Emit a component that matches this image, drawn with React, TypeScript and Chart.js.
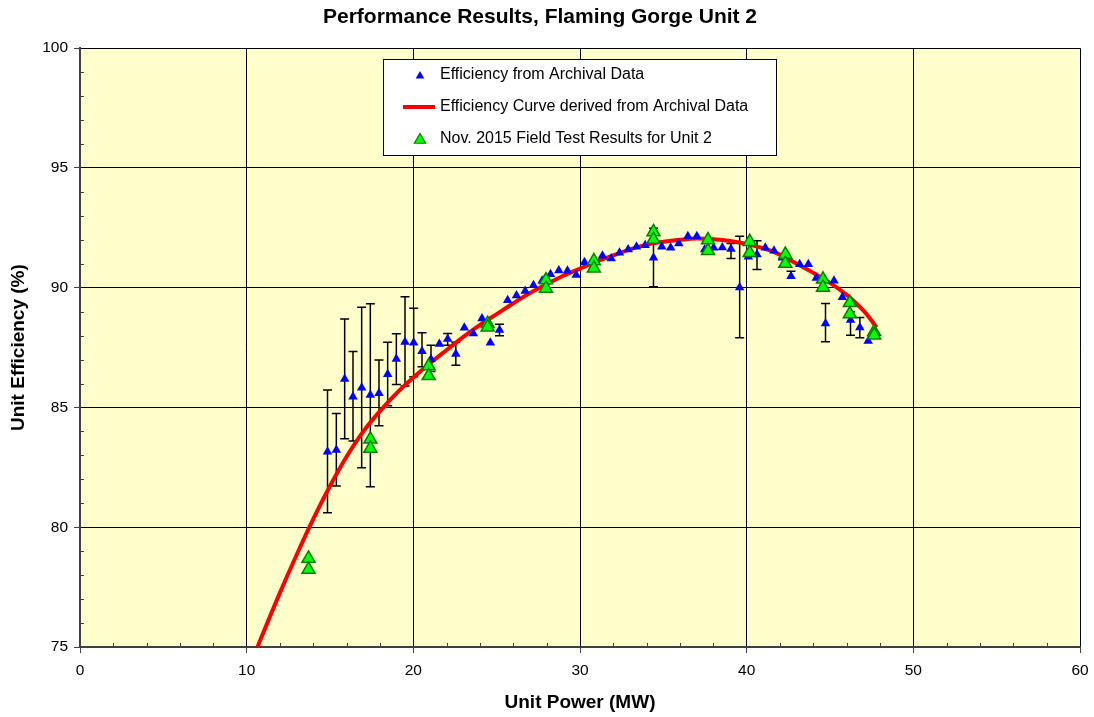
import React, { useEffect, useRef } from 'react';
import { Chart, registerables } from 'chart.js';

Chart.register(...registerables);

// Archival data (blue triangles)
const archX = [14.85, 15.38, 15.88, 16.38, 16.9, 17.42, 17.94, 18.46, 18.98, 19.5, 20.02, 20.52, 21.06, 21.56, 22.06, 22.55, 23.06, 23.6, 24.12, 24.62, 25.17, 25.66, 26.19, 26.71, 27.21, 27.73, 28.23, 28.73, 29.25, 29.77, 30.27, 31.35, 31.87, 32.37, 32.89, 33.39, 33.91, 34.41, 34.91, 35.44, 35.93, 36.47, 37.01, 37.48, 38.02, 38.54, 39.06, 39.58, 40.1, 40.62, 41.12, 41.64, 42.14, 42.66, 43.18, 43.7, 44.18, 44.73, 45.24, 45.74, 46.23, 46.79, 47.29];
const archY = [83.15, 83.22, 86.19, 85.45, 85.82, 85.52, 85.59, 86.39, 87.02, 87.73, 87.7, 87.35, 87.01, 87.65, 87.86, 87.23, 88.33, 88.09, 88.72, 87.7, 88.23, 89.48, 89.68, 89.86, 90.1, 90.29, 90.56, 90.72, 90.71, 90.53, 91.06, 91.33, 91.22, 91.46, 91.6, 91.71, 91.77, 91.25, 91.71, 91.67, 91.85, 92.15, 92.15, 91.6, 91.67, 91.68, 91.62, 90.01, 91.29, 91.39, 91.67, 91.54, 91.25, 90.48, 90.98, 90.98, 90.41, 88.51, 90.29, 89.6, 88.65, 88.34, 87.78];
const errLow: (number | null)[] = [80.6, 81.72, 83.69, 83.6, 82.48, 81.69, 84.24, 85.07, 85.96, 85.9, 86.28, 86.7, 86.5, null, 87.6, 86.76, null, null, null, null, 87.99, null, null, null, null, null, null, null, null, null, null, null, null, null, null, null, null, 90.04, null, null, null, null, null, null, null, null, 91.22, 87.91, null, 90.76, null, null, null, null, null, null, null, 87.74, null, null, 88.02, 87.91, null];
const errHigh: (number | null)[] = [85.73, 84.75, 88.69, 87.34, 89.18, 89.33, 86.98, 87.72, 88.08, 89.62, 89.14, 88.12, 87.6, null, 88.09, 87.72, null, null, null, null, 88.47, null, null, null, null, null, null, null, null, null, null, null, null, null, null, null, null, 92.48, null, null, null, null, null, null, null, null, 91.85, 92.15, null, 91.96, null, null, null, 90.69, null, null, null, 89.34, null, null, 89.0, 88.76, null];

// Efficiency curve derived from archival data (red line)
const curveX = [10.65, 11, 12, 13, 14, 15, 16, 17, 18, 19, 20, 21, 22, 23, 24, 25, 26, 27, 28, 29, 30, 31, 32, 33, 34, 35, 36, 37, 38, 39, 40, 41, 42, 43, 44, 45, 46, 47, 47.8];
const curveY = [75.0, 75.6, 77.27, 78.85, 80.35, 81.72, 82.95, 84.0, 84.85, 85.6, 86.25, 86.85, 87.4, 87.95, 88.45, 88.9, 89.35, 89.78, 90.15, 90.5, 90.8, 91.1, 91.35, 91.6, 91.8, 91.92, 92.0, 92.05, 92.02, 91.95, 91.82, 91.65, 91.38, 91.0, 90.62, 90.2, 89.7, 89.05, 88.35];

// Nov. 2015 field test results (green triangles)
const testX = [13.71, 13.71, 17.42, 17.42, 20.92, 20.92, 24.46, 24.46, 27.96, 27.96, 30.83, 30.83, 34.41, 34.41, 37.68, 37.68, 40.18, 40.18, 42.32, 42.32, 44.58, 44.58, 46.19, 46.19, 47.65, 47.65];
const testY = [78.7, 78.24, 83.67, 83.29, 86.73, 86.32, 88.5, 88.35, 90.32, 89.97, 91.12, 90.81, 92.33, 92.01, 91.99, 91.54, 91.92, 91.46, 91.39, 91.01, 90.35, 90.01, 89.37, 88.9, 88.16, 88.02];

const legendLabels = [
  'Efficiency from Archival Data',
  'Efficiency Curve derived from Archival Data',
  'Nov. 2015 Field Test Results for Unit 2',
];

const FONT = 'Arial, "Liberation Sans", sans-serif';

const bgPlugin = {
  id: 'plotBg',
  beforeDraw(chart: any) {
    const { ctx, chartArea } = chart;
    ctx.save();
    ctx.fillStyle = '#FFFFCC';
    ctx.fillRect(chartArea.left, chartArea.top, chartArea.right - chartArea.left, chartArea.bottom - chartArea.top);
    ctx.restore();
  },
};

const minorTicksPlugin = {
  id: 'minorTicks',
  beforeDatasetsDraw(chart: any) {
    const { ctx, chartArea, scales } = chart;
    const x = scales.x;
    const y = scales.y;
    ctx.save();
    ctx.strokeStyle = '#404040';
    ctx.lineWidth = 1;
    for (let v = 2; v < 60; v += 2) {
      if (v % 10 === 0) continue;
      const px = Math.round(x.getPixelForValue(v)) + 0.5;
      ctx.beginPath();
      ctx.moveTo(px, chartArea.bottom);
      ctx.lineTo(px, chartArea.bottom - 4);
      ctx.stroke();
    }
    for (let v = 76; v < 100; v += 1) {
      if (v % 5 === 0) continue;
      const py = Math.round(y.getPixelForValue(v)) + 0.5;
      ctx.beginPath();
      ctx.moveTo(chartArea.left, py);
      ctx.lineTo(chartArea.left + 4, py);
      ctx.stroke();
    }
    ctx.restore();
  },
};

const errorBarPlugin = {
  id: 'errorBars',
  beforeDatasetsDraw(chart: any) {
    const { ctx, chartArea, scales } = chart;
    const x = scales.x;
    const y = scales.y;
    ctx.save();
    ctx.beginPath();
    ctx.rect(chartArea.left, chartArea.top, chartArea.right - chartArea.left, chartArea.bottom - chartArea.top);
    ctx.clip();
    ctx.strokeStyle = '#000000';
    ctx.lineWidth = 1.5;
    const cap = 4.5;
    archX.forEach((vx, i) => {
      const lo = errLow[i];
      const hi = errHigh[i];
      if (lo == null && hi == null) return;
      const px = x.getPixelForValue(vx);
      const pLo = y.getPixelForValue(lo == null ? archY[i] : lo);
      const pHi = y.getPixelForValue(hi == null ? archY[i] : hi);
      ctx.beginPath();
      ctx.moveTo(px, pLo);
      ctx.lineTo(px, pHi);
      if (hi != null) {
        ctx.moveTo(px - cap, pHi);
        ctx.lineTo(px + cap, pHi);
      }
      if (lo != null) {
        ctx.moveTo(px - cap, pLo);
        ctx.lineTo(px + cap, pLo);
      }
      ctx.stroke();
    });
    ctx.restore();
  },
};

function triangle(ctx: CanvasRenderingContext2D, cx: number, cy: number, r: number) {
  ctx.beginPath();
  ctx.moveTo(cx, cy - r);
  ctx.lineTo(cx + r * 0.866, cy + r * 0.5);
  ctx.lineTo(cx - r * 0.866, cy + r * 0.5);
  ctx.closePath();
}

const legendPlugin = {
  id: 'boxLegend',
  afterDraw(chart: any) {
    const { ctx } = chart;
    const left = 383.5, top = 59.5, w = 393, h = 96;
    ctx.save();
    ctx.fillStyle = '#FFFFFF';
    ctx.fillRect(left, top, w, h);
    ctx.strokeStyle = '#000000';
    ctx.lineWidth = 1;
    ctx.strokeRect(left, top, w, h);
    const rows = [75, 107, 139];
    const mx = 420;
    ctx.fillStyle = '#0000FF';
    triangle(ctx, mx, rows[0] + 1, 5);
    ctx.fill();
    ctx.strokeStyle = '#FF0000';
    ctx.lineWidth = 4;
    ctx.beginPath();
    ctx.moveTo(403, rows[1]);
    ctx.lineTo(435, rows[1]);
    ctx.stroke();
    ctx.fillStyle = '#00FF00';
    ctx.strokeStyle = '#008000';
    ctx.lineWidth = 1.2;
    triangle(ctx, mx, rows[2] + 1, 6.5);
    ctx.fill();
    ctx.stroke();
    ctx.fillStyle = '#000000';
    ctx.font = `16px ${FONT}`;
    ctx.textBaseline = 'middle';
    ctx.textAlign = 'left';
    legendLabels.forEach((t, i) => ctx.fillText(t, 440, rows[i]));
    ctx.restore();
  },
};

export default function App() {
  const ref = useRef<HTMLCanvasElement | null>(null);

  useEffect(() => {
    if (!ref.current) return;
    const chart = new Chart(ref.current, {
      type: 'scatter',
      data: {
        datasets: [
          {
            label: legendLabels[1],
            data: curveX.map((x, i) => ({ x, y: curveY[i] })),
            showLine: true,
            borderColor: '#FF0000',
            backgroundColor: '#FF0000',
            borderWidth: 4,
            pointRadius: 0,
            tension: 0.4,
            order: 2,
          } as any,
          {
            label: legendLabels[0],
            data: archX.map((x, i) => ({ x, y: archY[i] })),
            pointStyle: 'triangle',
            pointRadius: 5.5,
            backgroundColor: '#0000FF',
            borderColor: '#0000FF',
            borderWidth: 0,
            order: 1,
          },
          {
            label: legendLabels[2],
            data: testX.map((x, i) => ({ x, y: testY[i] })),
            pointStyle: 'triangle',
            pointRadius: 7.5,
            backgroundColor: '#00FF00',
            borderColor: '#008000',
            borderWidth: 1.5,
            order: 0,
          },
        ],
      },
      options: {
        responsive: false,
        animation: false,
        events: [],
        layout: { padding: { top: 0, right: 14, bottom: 0, left: 0 } },
        plugins: {
          legend: { display: false },
          tooltip: { enabled: false },
          title: {
            display: true,
            text: 'Performance Results, Flaming Gorge Unit 2',
            color: '#000000',
            font: { family: FONT, size: 21, weight: 'bold', lineHeight: 1.2 },
            padding: { top: 5, bottom: 18 },
          },
        },
        scales: {
          x: {
            type: 'linear',
            min: 0,
            max: 60,
            ticks: { stepSize: 10, color: '#000000', font: { family: FONT, size: 15.5 }, padding: 8, maxRotation: 0 },
            grid: { color: '#000000', lineWidth: 1, tickLength: 6, tickColor: '#404040' },
            border: { display: true, color: '#404040', width: 2 },
            title: {
              display: true,
              text: 'Unit Power (MW)',
              color: '#000000',
              font: { family: FONT, size: 19, weight: 'bold' },
              padding: { top: 4, bottom: 3 },
            },
            afterFit(scale: any) {
              scale.height = 70;
              scale.paddingRight = 0;
              scale.paddingLeft = 0;
            },
          },
          y: {
            type: 'linear',
            min: 75,
            max: 100,
            ticks: { stepSize: 5, color: '#000000', font: { family: FONT, size: 15.5 }, padding: 6 },
            grid: { color: '#000000', lineWidth: 1, tickLength: 6, tickColor: '#404040' },
            border: { display: true, color: '#404040', width: 2 },
            title: {
              display: true,
              text: 'Unit Efficiency (%)',
              color: '#000000',
              font: { family: FONT, size: 19, weight: 'bold' },
              padding: { top: 7, bottom: 4 },
            },
            afterFit(scale: any) {
              scale.width = 80;
            },
          },
        },
      } as any,
      plugins: [bgPlugin, minorTicksPlugin, errorBarPlugin, legendPlugin],
    });
    return () => chart.destroy();
  }, []);

  return (
    <div style={{ position: 'fixed', left: 0, top: 0, width: 1094, height: 717, background: '#FFFFFF' }}>
      <canvas ref={ref} width={1094} height={717} style={{ display: 'block' }} />
    </div>
  );
}
